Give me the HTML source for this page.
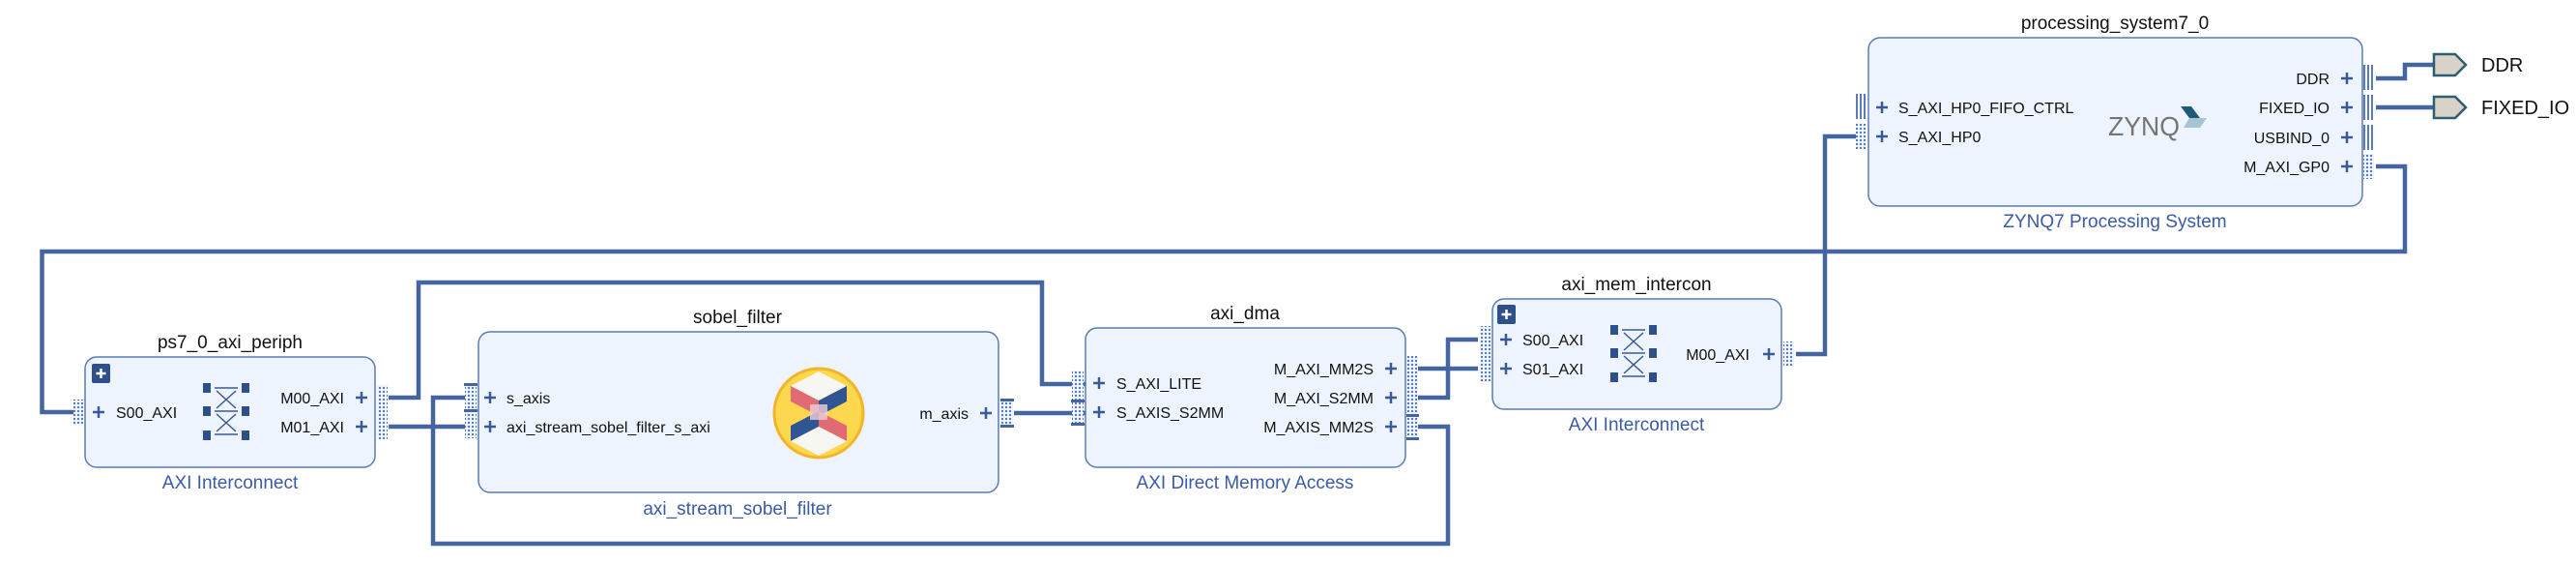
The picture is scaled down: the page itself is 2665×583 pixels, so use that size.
<!DOCTYPE html>
<html><head><meta charset="utf-8"><style>
html,body{margin:0;padding:0;background:#fff;}
svg{display:block;}
text{font-family:"Liberation Sans",sans-serif;}
.t{font-size:19px;fill:#111;text-anchor:middle;}
.s{font-size:19px;fill:#3b5ba5;text-anchor:middle;}
.p{font-size:16px;fill:#111;}
.pr{font-size:16px;fill:#111;text-anchor:end;}
.box{fill:#edf4fd;stroke:#5b7bb5;stroke-width:1.5;}
.w{fill:none;stroke:#4565a0;stroke-width:4.5;}
.pl{stroke:#3a5a95;stroke-width:2.5;}
</style></head><body>
<svg width="2665" height="583" viewBox="0 0 2665 583" xmlns="http://www.w3.org/2000/svg">
<defs>
<pattern id="dots" width="4" height="4" patternUnits="userSpaceOnUse">
<rect width="4" height="4" fill="#eaf2fc"/><rect width="2" height="2" fill="#5a7bb8"/>
</pattern>
<g id="plus"><line x1="-6" y1="0" x2="6" y2="0" class="pl"/><line x1="0" y1="-6" x2="0" y2="6" class="pl"/></g>
<g id="xbar">
<rect x="0" y="0" width="8" height="10" fill="#2f4f8a"/><rect x="40" y="0" width="8" height="10" fill="#2f4f8a"/>
<rect x="0" y="24" width="8" height="10" fill="#2f4f8a"/><rect x="40" y="24" width="8" height="10" fill="#2f4f8a"/>
<rect x="0" y="49" width="8" height="10" fill="#2f4f8a"/><rect x="40" y="49" width="8" height="10" fill="#2f4f8a"/>
<path d="M12 5H36M12 29H36M12 53H36M14 8L34 26M34 8L14 26M14 32L34 50M34 32L14 50" stroke="#3a5a95" stroke-width="1.5" fill="none"/>
</g>
<g id="badge"><rect x="0" y="0" width="19" height="20" rx="2" fill="#2f4f8a"/><path d="M9.5 5V15M4.5 10H14.5" stroke="#fff" stroke-width="2.5"/></g>
</defs>

<!-- wires -->
<path class="w" d="M2458 172H2488V260H43.5V426H76"/>
<path class="w" d="M402 411H433V292H1078V397H1123"/>
<path class="w" d="M402 441H482"/>
<path class="w" d="M482 411H448V562H1498V441H1467"/>
<path class="w" d="M1049 427H1123"/>
<path class="w" d="M1467 381H1529"/>
<path class="w" d="M1467 411H1498V351H1529"/>
<path class="w" d="M1858 366H1888V141H1920"/>
<path class="w" d="M2458 81H2488V67H2518"/>
<path class="w" d="M2458 111H2518"/>

<!-- ps7_0_axi_periph -->
<rect class="box" x="88" y="369" width="300" height="114" rx="12"/>
<text class="t" x="238" y="360">ps7_0_axi_periph</text>
<text class="s" x="238" y="505">AXI Interconnect</text>
<use href="#badge" x="95" y="376"/>
<use href="#xbar" x="210" y="396"/>
<rect x="76" y="413" width="10" height="26" fill="url(#dots)"/>
<use href="#plus" x="102" y="426"/><text class="p" x="120" y="432">S00_AXI</text>
<text class="pr" x="356" y="417">M00_AXI</text><use href="#plus" x="374" y="411"/>
<text class="pr" x="356" y="447">M01_AXI</text><use href="#plus" x="374" y="441"/>
<rect x="390" y="398" width="11" height="56" fill="url(#dots)"/>

<!-- sobel_filter -->
<rect class="box" x="495" y="343" width="538" height="166" rx="12"/>
<text class="t" x="763" y="334">sobel_filter</text>
<text class="s" x="763" y="532">axi_stream_sobel_filter</text>
<rect x="481" y="397" width="12" height="56" fill="url(#dots)"/>
<rect x="480" y="396" width="14" height="3" fill="#4565a0"/><rect x="480" y="423" width="14" height="3" fill="#4565a0"/>
<use href="#plus" x="507" y="411"/><text class="p" x="524" y="417">s_axis</text>
<use href="#plus" x="507" y="441"/><text class="p" x="524" y="447">axi_stream_sobel_filter_s_axi</text>
<text class="pr" x="1002" y="433">m_axis</text><use href="#plus" x="1020" y="427"/>
<rect x="1035" y="413" width="13" height="28" fill="url(#dots)"/>
<rect x="1035" y="412" width="14" height="3" fill="#4565a0"/><rect x="1035" y="439" width="14" height="3" fill="#4565a0"/>
<!-- icon -->
<circle cx="847" cy="427" r="46" fill="#fdd84e" stroke="#f2b52a" stroke-width="3"/>
<polygon points="847,384 876,399 847,414 818,399" fill="#f6f7f2"/>
<polygon points="818,399 847,414 847,430 818,415" fill="#e26a74"/>
<polygon points="876,399 847,414 847,430 876,415" fill="#2f5595"/>
<polygon points="818,440 847,425 847,441 818,456" fill="#2f5595"/>
<polygon points="876,440 847,425 847,441 876,456" fill="#e26a74"/>
<polygon points="818,456 847,471 876,456 847,441" fill="#f6f7f2"/>
<rect x="838" y="418" width="18" height="16" fill="#f0d0d8" opacity="0.8"/>

<!-- axi_dma -->
<rect class="box" x="1123" y="339" width="331" height="144" rx="12"/>
<text class="t" x="1288" y="330">axi_dma</text>
<text class="s" x="1288" y="505">AXI Direct Memory Access</text>
<rect x="1109" y="383" width="12" height="56" fill="url(#dots)"/>
<rect x="1108" y="413" width="14" height="3" fill="#4565a0"/><rect x="1108" y="437" width="14" height="3" fill="#4565a0"/>
<use href="#plus" x="1137" y="396"/><text class="p" x="1155" y="402">S_AXI_LITE</text>
<use href="#plus" x="1137" y="426"/><text class="p" x="1155" y="432">S_AXIS_S2MM</text>
<text class="pr" x="1421" y="387">M_AXI_MM2S</text><use href="#plus" x="1439" y="381"/>
<text class="pr" x="1421" y="417">M_AXI_S2MM</text><use href="#plus" x="1439" y="411"/>
<text class="pr" x="1421" y="447">M_AXIS_MM2S</text><use href="#plus" x="1439" y="441"/>
<rect x="1455" y="368" width="12" height="86" fill="url(#dots)"/>
<rect x="1455" y="428" width="13" height="3" fill="#4565a0"/><rect x="1455" y="452" width="13" height="3" fill="#4565a0"/>

<!-- axi_mem_intercon -->
<rect class="box" x="1544" y="309" width="299" height="114" rx="12"/>
<text class="t" x="1693" y="300">axi_mem_intercon</text>
<text class="s" x="1693" y="445">AXI Interconnect</text>
<use href="#badge" x="1549" y="315"/>
<use href="#xbar" x="1666" y="336"/>
<rect x="1531" y="337" width="11" height="58" fill="url(#dots)"/>
<use href="#plus" x="1558" y="351"/><text class="p" x="1575" y="357">S00_AXI</text>
<use href="#plus" x="1558" y="381"/><text class="p" x="1575" y="387">S01_AXI</text>
<text class="pr" x="1810" y="372">M00_AXI</text><use href="#plus" x="1830" y="366"/>
<rect x="1845" y="353" width="11" height="26" fill="url(#dots)"/>

<!-- processing_system7_0 -->
<rect class="box" x="1933" y="39" width="511" height="174" rx="12"/>
<text class="t" x="2188" y="30">processing_system7_0</text>
<text class="s" x="2188" y="235">ZYNQ7 Processing System</text>
<g fill="#5a7bb8"><rect x="1920" y="97" width="2" height="26"/><rect x="1924" y="97" width="2" height="26"/><rect x="1928" y="97" width="2" height="26"/></g>
<rect x="1920" y="128" width="10" height="26" fill="url(#dots)"/>
<use href="#plus" x="1947" y="111"/><text class="p" x="1964" y="117">S_AXI_HP0_FIFO_CTRL</text>
<use href="#plus" x="1947" y="141"/><text class="p" x="1964" y="147">S_AXI_HP0</text>
<text x="2181" y="140" textLength="74" lengthAdjust="spacingAndGlyphs" style="font-size:28px;fill:#757575">ZYNQ</text>
<polygon points="2256,110 2267,110 2276,122 2265,122" fill="#1f5a7a"/>
<polygon points="2265,122 2283,122 2276,132 2259,132" fill="#a8c4d4"/>
<text class="pr" x="2410" y="87">DDR</text><use href="#plus" x="2428" y="81"/>
<text class="pr" x="2410" y="117">FIXED_IO</text><use href="#plus" x="2428" y="111"/>
<text class="pr" x="2410" y="148">USBIND_0</text><use href="#plus" x="2428" y="142"/>
<text class="pr" x="2410" y="178">M_AXI_GP0</text><use href="#plus" x="2428" y="172"/>
<g fill="#5a7bb8">
<rect x="2445" y="67" width="2" height="26"/><rect x="2449" y="67" width="2" height="26"/><rect x="2453" y="67" width="2" height="26"/>
<rect x="2445" y="98" width="2" height="26"/><rect x="2449" y="98" width="2" height="26"/><rect x="2453" y="98" width="2" height="26"/>
<rect x="2445" y="129" width="2" height="26"/><rect x="2449" y="129" width="2" height="26"/><rect x="2453" y="129" width="2" height="26"/>
</g>
<rect x="2445" y="159" width="11" height="26" fill="url(#dots)"/>

<!-- external ports -->
<polygon points="2518,56 2540,56 2551,67 2540,78 2518,78" fill="#d9d2c9" stroke="#2d5f6e" stroke-width="2.5"/>
<text x="2567" y="74" style="font-size:20px;fill:#111">DDR</text>
<polygon points="2518,100 2540,100 2551,111 2540,122 2518,122" fill="#d9d2c9" stroke="#2d5f6e" stroke-width="2.5"/>
<text x="2567" y="118" style="font-size:20px;fill:#111">FIXED_IO</text>
</svg>
</body></html>
